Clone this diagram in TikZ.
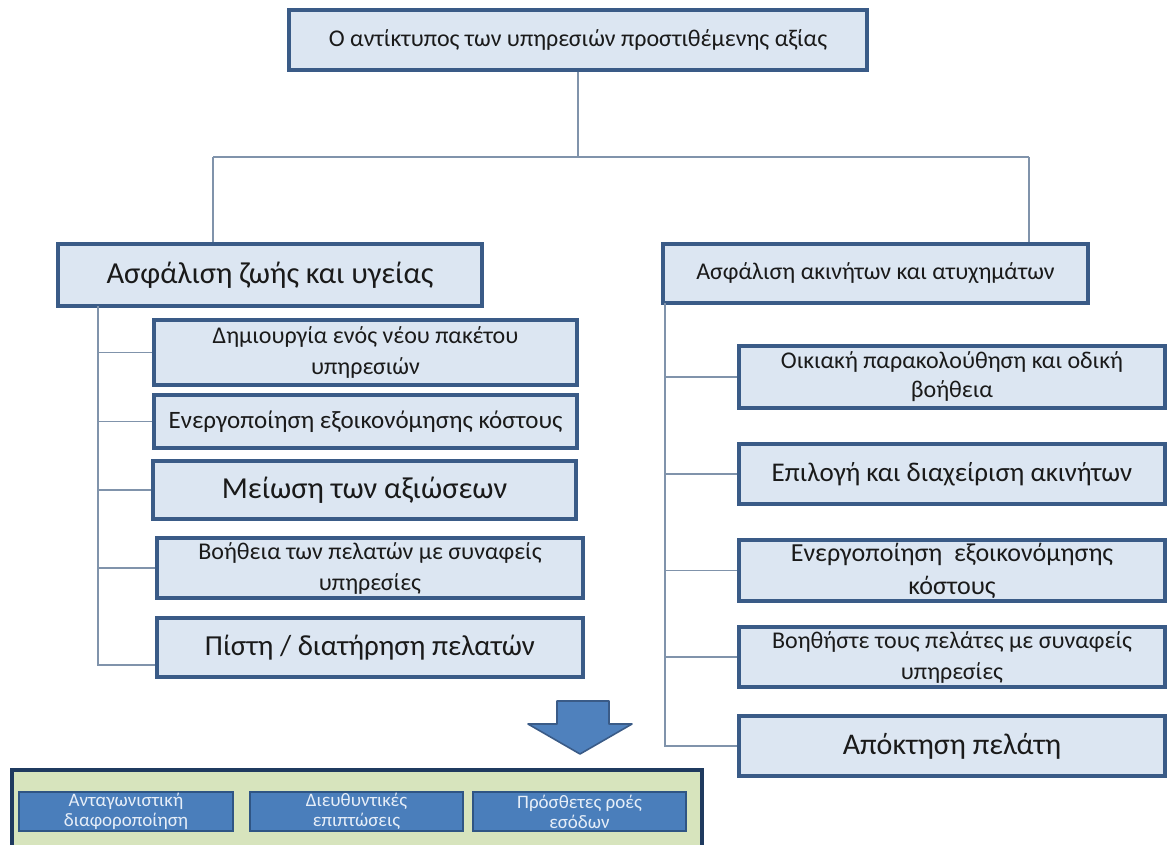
\documentclass[tikz,border=0pt]{standalone}
\usepackage{fontspec}
\setmainfont{Carlito}
\definecolor{boxfill}{HTML}{DCE6F2}
\definecolor{boxborder}{HTML}{3A5B87}
\definecolor{connc}{HTML}{8093AB}
\definecolor{arrowfill}{HTML}{4F81BD}
\definecolor{greenfill}{HTML}{D7E4BD}
\definecolor{greenborder}{HTML}{1F3A5F}
\definecolor{innerfill}{HTML}{4A7EBB}
\definecolor{innerborder}{HTML}{2F5584}
\definecolor{innertext}{HTML}{E6EEF8}
\definecolor{txt}{HTML}{1A1A1A}
\begin{document}
\begin{tikzpicture}[x=1pt,y=-1pt,
  box/.style={draw=boxborder, line width=3.2pt, fill=boxfill, inner sep=0pt, align=center, text=txt},
  conn/.style={draw=connc, line width=1.4pt},
  inbox/.style={draw=innerborder, line width=2.2pt, fill=innerfill, inner sep=0pt, align=center, text=innertext, font=\fontsize{19}{20}\selectfont}]
\useasboundingbox (0,0) rectangle (1174,845);

% top
\node[box, minimum width=578, minimum height=60, font=\fontsize{24}{31}\selectfont] (top) at (578,40) {Ο αντίκτυπος των υπηρεσιών προστιθέμενης αξίας};

% headers
\node[box, minimum width=424, minimum height=62, font=\fontsize{30.5}{38}\selectfont] (lh) at (270,275) {Ασφάλιση ζωής και υγείας};
\node[box, minimum width=425, minimum height=59, font=\fontsize{24}{31}\selectfont] (rh) at (875.5,273.5) {Ασφάλιση ακινήτων και ατυχημάτων};

% left children
\node[box, minimum width=423, minimum height=65, font=\fontsize{24}{31}\selectfont] (c1) at (365.5,352.5) {Δημιουργία ενός νέου πακέτου\\υπηρεσιών};
\node[box, minimum width=423, minimum height=53, font=\fontsize{25}{31}\selectfont] (c2) at (365.5,421.5) {Ενεργοποίηση εξοικονόμησης κόστους};
\node[box, minimum width=423, minimum height=58, font=\fontsize{30.5}{38}\selectfont] (c3) at (364.5,490) {Μείωση των αξιώσεων};
\node[box, minimum width=426, minimum height=60, font=\fontsize{24}{31}\selectfont] (c4) at (370,568) {Βοήθεια των πελατών με συναφείς\\υπηρεσίες};
\node[box, minimum width=426, minimum height=59, font=\fontsize{29}{36}\selectfont] (c5) at (370,647.5) {Πίστη / διατήρηση πελατών};

% right children
\node[box, minimum width=426, minimum height=62, font=\fontsize{24}{29}\selectfont] (r1) at (952,377) {Οικιακή παρακολούθηση και οδική\\βοήθεια};
\node[box, minimum width=426, minimum height=60, font=\fontsize{27}{34}\selectfont] (r2) at (952,474) {Επιλογή και διαχείριση ακινήτων};
\node[box, minimum width=426, minimum height=61, font=\fontsize{26}{33}\selectfont] (r3) at (952,570.5) {Ενεργοποίηση \ εξοικονόμησης\\κόστους};
\node[box, minimum width=426, minimum height=60, font=\fontsize{24}{31}\selectfont] (r4) at (952,657) {Βοηθήστε τους πελάτες με συναφείς\\υπηρεσίες};
\node[box, minimum width=426, minimum height=60, font=\fontsize{30}{37}\selectfont] (r5) at (952,746) {Απόκτηση πελάτη};

% connectors top level
\coordinate (jl) at (213,157);
\coordinate (jr) at (1029,157);
\draw[conn] (top.south) -- (top.south |- jl);
\draw[conn] (jl) -- (jr);
\draw[conn] (jl) -- (jl |- lh.north);
\draw[conn] (jr) -- (jr |- rh.north);

% left tree
\coordinate (lv) at (98,306);
\coordinate (l5) at (98,665);
\draw[conn] (lv) -- (l5) -- (l5 -| c5.west);
\draw[conn] (lv |- c1.west) -- (c1.west);
\draw[conn] (lv |- c2.west) -- (c2.west);
\draw[conn] (lv |- c3.west) -- (c3.west);
\draw[conn] (lv |- c4.west) -- (c4.west);

% right tree
\coordinate (rv) at (665,303);
\draw[conn] (rv) |- (r5.west);
\draw[conn] (rv |- r1.west) -- (r1.west);
\draw[conn] (rv |- r2.west) -- (r2.west);
\draw[conn] (rv |- r3.west) -- (r3.west);
\draw[conn] (rv |- r4.west) -- (r4.west);

% block arrow
\draw[draw=boxborder, line width=1.6pt, fill=arrowfill, line join=round]
  (557,701) -- (609,701) -- (609,724) -- (632,724) -- (580,754) -- (528,724) -- (557,724) -- cycle;

% green panel
\node[draw=greenborder, line width=3.2pt, fill=greenfill, minimum width=690, minimum height=84, inner sep=0pt] (panel) at (357,812) {};
\node[inbox, minimum width=214, minimum height=39] (b1) at (126,811.5) {Ανταγωνιστική\\διαφοροποίηση};
\node[inbox, minimum width=213, minimum height=39] (b2) at (356.5,811.5) {Διευθυντικές\\επιπτώσεις};
\node[inbox, minimum width=213, minimum height=39] (b3) at (579.5,811.5) {Πρόσθετες ροές\\εσόδων};
\end{tikzpicture}
\end{document}
